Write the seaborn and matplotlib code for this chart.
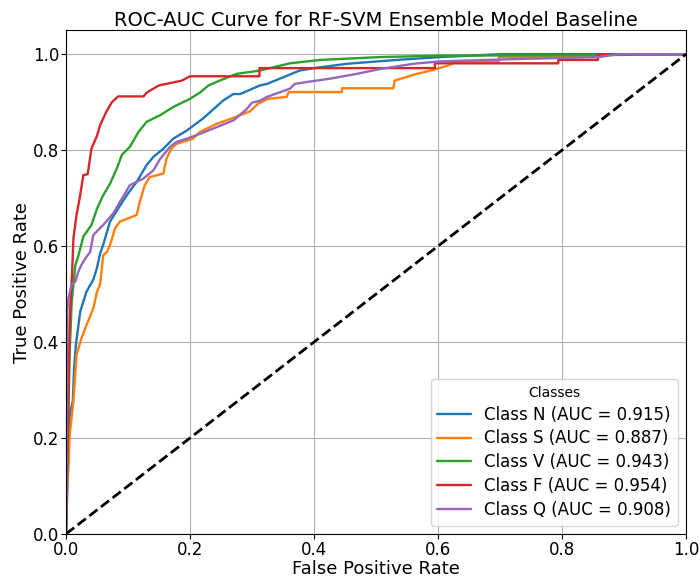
import matplotlib
matplotlib.use("Agg")
import matplotlib.pyplot as plt
import seaborn as sns

classes = ["N", "S", "V", "F", "Q"]
auc_values = [0.915, 0.887, 0.943, 0.954, 0.908]

fpr_N = [0, 0.004, 0.006, 0.011, 0.013, 0.016, 0.023, 0.033, 0.044, 0.05, 0.055, 0.06, 0.071, 0.084, 0.098, 0.114, 0.13, 0.141, 0.157, 0.173, 0.195, 0.221, 0.254, 0.27, 0.281, 0.313, 0.324, 0.377, 0.4, 0.453, 0.533, 0.603, 0.70, 1.0]
tpr_N = [0, 0.17, 0.25, 0.277, 0.345, 0.395, 0.464, 0.505, 0.53, 0.555, 0.585, 0.603, 0.651, 0.678, 0.706, 0.734, 0.769, 0.786, 0.803, 0.824, 0.841, 0.866, 0.904, 0.917, 0.917, 0.935, 0.938, 0.966, 0.971, 0.98, 0.988, 0.994, 1.0, 1.0]

fpr_S = [0, 0.001, 0.004, 0.006, 0.012, 0.017, 0.025, 0.031, 0.044, 0.05, 0.055, 0.06, 0.066, 0.071, 0.079, 0.087, 0.114, 0.119, 0.127, 0.135, 0.157, 0.162, 0.17, 0.178, 0.205, 0.216, 0.243, 0.265, 0.297, 0.31, 0.326, 0.356, 0.359, 0.445, 0.445, 0.528, 0.53, 0.566, 0.592, 0.615, 0.632, 0.698, 0.698, 0.86, 0.86, 1.0]
tpr_S = [0, 0.07, 0.146, 0.208, 0.277, 0.374, 0.408, 0.429, 0.47, 0.505, 0.52, 0.581, 0.588, 0.602, 0.637, 0.651, 0.665, 0.692, 0.727, 0.744, 0.751, 0.782, 0.803, 0.813, 0.824, 0.838, 0.855, 0.865, 0.881, 0.897, 0.907, 0.911, 0.921, 0.921, 0.929, 0.929, 0.945, 0.959, 0.967, 0.976, 0.985, 0.985, 0.994, 0.994, 1.0, 1.0]

fpr_V = [0, 0.003, 0.006, 0.009, 0.012, 0.015, 0.02, 0.028, 0.041, 0.05, 0.06, 0.071, 0.082, 0.09, 0.103, 0.117, 0.13, 0.152, 0.173, 0.2, 0.216, 0.23, 0.248, 0.275, 0.313, 0.361, 0.41, 0.506, 0.603, 0.86, 1.0]
tpr_V = [0, 0.2, 0.38, 0.48, 0.52, 0.56, 0.58, 0.62, 0.644, 0.678, 0.706, 0.73, 0.762, 0.79, 0.807, 0.838, 0.859, 0.873, 0.89, 0.907, 0.92, 0.935, 0.945, 0.959, 0.966, 0.981, 0.988, 0.994, 0.997, 0.998, 1.0]

fpr_F = [0, 0.002, 0.004, 0.006, 0.01, 0.012, 0.017, 0.022, 0.028, 0.035, 0.041, 0.05, 0.055, 0.065, 0.074, 0.084, 0.125, 0.13, 0.15, 0.187, 0.2, 0.312, 0.312, 0.595, 0.595, 0.794, 0.794, 0.858, 0.858, 1.0]
tpr_F = [0, 0.15, 0.3, 0.45, 0.55, 0.617, 0.665, 0.70, 0.748, 0.75, 0.803, 0.83, 0.852, 0.88, 0.90, 0.912, 0.912, 0.92, 0.935, 0.945, 0.954, 0.954, 0.971, 0.971, 0.981, 0.981, 0.988, 0.988, 1.0, 1.0]

fpr_Q = [0, 0.001, 0.002, 0.004, 0.009, 0.015, 0.02, 0.025, 0.031, 0.039, 0.044, 0.06, 0.076, 0.087, 0.103, 0.125, 0.141, 0.152, 0.168, 0.178, 0.195, 0.216, 0.243, 0.27, 0.291, 0.30, 0.313, 0.324, 0.361, 0.369, 0.388, 0.426, 0.469, 0.506, 0.56, 0.603, 0.73, 0.86, 0.89, 1.0]
tpr_Q = [0, 0.10, 0.464, 0.491, 0.52, 0.526, 0.547, 0.561, 0.574, 0.588, 0.623, 0.644, 0.668, 0.692, 0.727, 0.741, 0.758, 0.782, 0.807, 0.817, 0.824, 0.834, 0.848, 0.862, 0.885, 0.899, 0.903, 0.911, 0.928, 0.938, 0.942, 0.949, 0.959, 0.969, 0.98, 0.985, 0.99, 0.994, 1.0, 1.0]

fprs = [fpr_N, fpr_S, fpr_V, fpr_F, fpr_Q]
tprs = [tpr_N, tpr_S, tpr_V, tpr_F, tpr_Q]
colors = ["#1f77b4", "#ff7f0e", "#2ca02c", "#d62728", "#9467bd"]

sns.set_style("ticks", rc={"axes.edgecolor": "black", "axes.linewidth": 0.8,
                           "grid.color": "#b0b0b0", "grid.linewidth": 0.8,
                           "xtick.color": "black", "ytick.color": "black",
                           "text.color": "black", "axes.labelcolor": "black"})
plt.rcParams["font.family"] = ["DejaVu Sans"]

fig = plt.figure(figsize=(7, 5.81), dpi=100)
ax = fig.add_axes([0.0943, 0.081, 0.8857, 0.867])

for c, auc, f, t, col in zip(classes, auc_values, fprs, tprs, colors):
    sns.lineplot(x=f, y=t, ax=ax, color=col, lw=1.7, estimator=None, sort=False,
                 label=f"Class {c} (AUC = {auc:.3f})")

sns.lineplot(x=[0, 1], y=[0, 1], ax=ax, color="black", lw=2, linestyle="--",
             estimator=None, sort=False)

ax.set_xlim(0, 1.0)
ax.set_ylim(0, 1.05)
ax.grid(True)
ax.set_title("ROC-AUC Curve for RF-SVM Ensemble Model Baseline", fontsize=14, pad=2)
ax.set_xlabel("False Positive Rate", fontsize=13, labelpad=1)
ax.set_ylabel("True Positive Rate", fontsize=13, labelpad=1.5)
ax.tick_params(labelsize=12, length=3.5, width=0.8, pad=1.5)
ax.legend(loc="lower right", title="Classes", fontsize=12, title_fontsize=10,
          labelspacing=0.35)

fig.savefig("out.png", dpi=100)
